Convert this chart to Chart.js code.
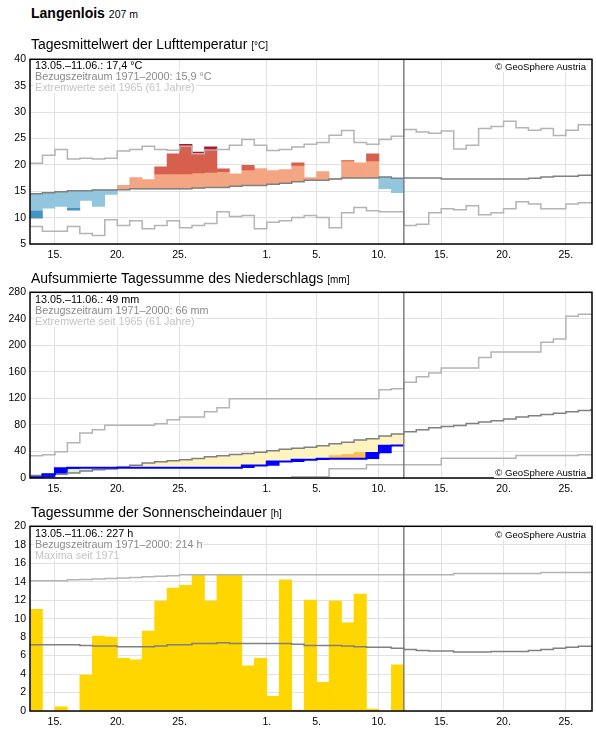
<!DOCTYPE html>
<html>
<head>
<meta charset="utf-8">
<script src="https://cdn.jsdelivr.net/npm/chart.js@4.4.1/dist/chart.umd.min.js"></script>
<style>
html, body { margin: 0; padding: 0; background: #fff; overflow: hidden; }
body { font-family: "Liberation Sans", Arial, sans-serif; color: #000; }
#page { position: relative; width: 596px; height: 729px; }
canvas { position: absolute; left: 0; }
.title { position: absolute; left: 31px; font-size: 14px; line-height: 14px; white-space: nowrap; }
.title .unit { font-size: 10px; }
.title .alt { font-size: 10.5px; }
.note { position: absolute; left: 34px; font-size: 10.8px; line-height: 11px; }
.note div { background: #fff; width: fit-content; padding: 0 1px; white-space: nowrap; }
.note .ref { color: #8a8a8a; }
.note .ext { color: #c4c4c4; }
.copy { position: absolute; right: 9px; font-size: 9.6px; line-height: 11px; background: #fff; padding: 0 1px; white-space: nowrap; }
</style>
</head>
<body>
<div id="page">
  <canvas id="tempChart" width="596" height="215" style="top:49px"></canvas>
  <canvas id="rainChart" width="596" height="216" style="top:282px"></canvas>
  <canvas id="sunChart" width="596" height="215" style="top:516px"></canvas>

  <div class="title" style="top:6px"><b>Langenlois</b> <span class="alt">207 m</span></div>

  <div class="title" style="top:37px">Tagesmittelwert der Lufttemperatur <span class="unit">[°C]</span></div>
  <div class="note" style="top:60px">
    <div>13.05.–11.06.: 17,4 °C</div>
    <div class="ref">Bezugszeitraum 1971–2000: 15,9 °C</div>
    <div class="ext">Extremwerte seit 1965 (61 Jahre)</div>
  </div>
  <div class="copy" style="top:61px">© GeoSphere Austria</div>

  <div class="title" style="top:271px">Aufsummierte Tagessumme des Niederschlags <span class="unit">[mm]</span></div>
  <div class="note" style="top:294px">
    <div>13.05.–11.06.: 49 mm</div>
    <div class="ref">Bezugszeitraum 1971–2000: 66 mm</div>
    <div class="ext">Extremwerte seit 1965 (61 Jahre)</div>
  </div>
  <div class="copy" style="top:467px">© GeoSphere Austria</div>

  <div class="title" style="top:505px">Tagessumme der Sonnenscheindauer <span class="unit">[h]</span></div>
  <div class="note" style="top:528px">
    <div>13.05.–11.06.: 227 h</div>
    <div class="ref">Bezugszeitraum 1971–2000: 214 h</div>
    <div class="ext">Maxima seit 1971</div>
  </div>
  <div class="copy" style="top:529px">© GeoSphere Austria</div>
</div>

<script>
// Days shown on the x axis (13.05. - 27.06.), one entry per day
const days = [
    '13.05.', '14.05.', '15.05.', '16.05.', '17.05.', '18.05.', '19.05.', '20.05.', '21.05.', '22.05.',
    '23.05.', '24.05.', '25.05.', '26.05.', '27.05.', '28.05.', '29.05.', '30.05.', '31.05.', '01.06.',
    '02.06.', '03.06.', '04.06.', '05.06.', '06.06.', '07.06.', '08.06.', '09.06.', '10.06.', '11.06.',
    '12.06.', '13.06.', '14.06.', '15.06.', '16.06.', '17.06.', '18.06.', '19.06.', '20.06.', '21.06.',
    '22.06.', '23.06.', '24.06.', '25.06.', '26.06.', '27.06.'
];
const tickDays = [2, 7, 12, 19, 23, 28, 33, 38, 43];
const tickLabels = ['15.', '20.', '25.', '1.', '5.', '10.', '15.', '20.', '25.'];

// Temperature (daily mean, °C) - measured days only
const tempDay = [9.9, 11.8, 12.1, 11.4, 13.25, 12.1, 14.4, 16.1, 17.6, 17.2,
    19.6, 22.1, 23.9, 22.4, 23.4, 19.25, 18.3, 19.9, 19.3, 18.9,
    19.1, 20.4, 17.6, 18.7, 17.4, 20.8, 20.4, 22.1, 15.5, 14.75];
// reference period mean, extremes
const tempMean = [14.5, 14.7, 14.9, 15.1, 15.1, 15.25, 15.25, 15.3, 15.45, 15.45,
    15.45, 15.45, 15.45, 15.6, 15.7, 15.7, 15.95, 16.1, 16.1, 16.3,
    16.5, 16.8, 17.1, 17.1, 17.3, 17.5, 17.5, 17.5, 17.7, 17.45,
    17.5, 17.5, 17.5, 17.3, 17.3, 17.3, 17.3, 17.3, 17.3, 17.3,
    17.45, 17.7, 17.85, 17.85, 18.05, 18.05];
const tempMax = [20.3, 21.8, 22.9, 21.1, 21.25, 21.1, 21.25, 22.6, 22.9, 23.5,
    22.9, 22.75, 23.5, 22.1, 22.8, 22.9, 23.7, 24.8, 23.7, 22.7,
    22.9, 23.4, 23.9, 24.25, 25.6, 26.5, 24.25, 23.9, 24.8, 25.4,
    26.7, 26.2, 26.0, 26.4, 23.0, 23.7, 26.9, 27.25, 28.25, 27.05,
    26.55, 26.9, 25.55, 26.55, 27.6, 27.6];
const tempMin = [8.3, 7.4, 7.4, 8.3, 7.0, 6.6, 9.6, 8.5, 9.4, 7.9,
    8.5, 9.4, 8.1, 8.5, 8.9, 11.1, 10.2, 10.4, 7.9, 9.1,
    9.4, 10.0, 10.4, 10.0, 8.1, 10.9, 11.9, 11.3, 11.1, 11.1,
    8.5, 8.75, 10.9, 11.7, 11.5, 12.25, 10.55, 10.9, 11.7, 13.0,
    12.6, 11.7, 11.7, 12.6, 12.8, 12.8];
// band edges where the colour gets darker
const tempHigh = [17.4, 17.6, 17.8, 17.9, 18.0, 18.1, 18.1, 18.2, 18.3, 18.3,
    18.3, 18.3, 18.3, 18.45, 18.55, 18.7, 18.9, 19.05, 19.35, 19.3,
    19.5, 19.9, 20.1, 20.2, 20.4, 20.75, 20.75, 20.75, 20.9, 20.7];
const tempLow = [11.25, 11.4, 11.55, 11.75, 11.8, 11.9, 12.0, 12.1, 12.2, 12.3,
    12.3, 12.4, 12.4, 12.5, 12.6, 12.6, 12.8, 12.9, 13.0, 13.1,
    13.3, 13.5, 13.7, 13.8, 14.0, 14.1, 14.2, 14.2, 14.3, 14.2];

// Precipitation, accumulated (mm)
const rainSum = [1.2, 5.6, 14.6, 15.6, 15.6, 15.6, 15.6, 15.6, 15.6, 15.6,
    15.6, 15.6, 15.6, 15.6, 15.6, 15.6, 15.6, 19.0, 19.0, 24.8,
    24.8, 27.6, 27.6, 29.0, 29.0, 29.0, 29.0, 37.7, 48.8, 49.0];
const rainMean = [3.6, 5.1, 6.1, 7.6, 10.6, 12.6, 13.6, 16.6, 19.1, 22.6,
    24.6, 26.1, 27.5, 29.5, 32.0, 33.5, 35.5, 37.0, 38.8, 41.0,
    43.5, 45.0, 46.5, 48.7, 51.5, 53.8, 57.3, 59.3, 63.3, 66.5,
    69.8, 72.8, 75.8, 77.8, 79.3, 82.3, 84.3, 86.3, 88.8, 91.8,
    93.8, 95.8, 97.8, 99.8, 101.9, 103.0];
const rainMax = [33.7, 35.2, 39.7, 53.2, 67.8, 72.8, 79.4, 79.4, 79.4, 79.4,
    81.9, 88.0, 92.0, 92.0, 100.0, 106.0, 119.4, 119.4, 119.4, 119.4,
    119.4, 119.4, 119.4, 119.4, 119.4, 119.4, 119.4, 119.4, 133.0, 134.5,
    144.5, 152.5, 158.5, 166.0, 166.0, 166.0, 181.6, 190.0, 190.0, 190.0,
    190.0, 204.7, 209.7, 244.0, 247.0, 247.0];
const rainMin = [0, 0, 0, 0, 0, 0, 0, 0, 0, 0,
    0.5, 0.5, 0.5, 0.5, 0.5, 0.5, 0.5, 0.5, 0.5, 0.5,
    0.5, 2, 2, 2, 14, 14, 14, 20, 20, 20,
    20, 20, 20, 29.6, 29.6, 29.6, 29.6, 29.6, 29.6, 34,
    34, 34, 34, 34, 35, 35];
const rainLow = [0, 0.5, 1, 1.5, 2, 3, 4, 5, 6, 7,
    8, 9, 10, 11, 12, 13, 14, 16, 17, 19,
    21, 23, 25, 28, 33.7, 35.7, 38.7, 37, 40, 42];

// Sunshine duration (h)
const sunDay = [11.0, 0, 0.45, 0, 3.9, 8.1, 8.0, 5.7, 5.55, 8.65,
    11.9, 13.3, 13.6, 14.7, 11.9, 14.7, 14.7, 4.9, 5.7, 1.6,
    14.2, 0.1, 12.0, 3.1, 11.9, 9.55, 12.65, 0.2, 0, 5.0];
const sunMean = [7.17, 7.17, 7.17, 7.17, 7.1, 7.03, 7.03, 6.95, 6.95, 6.95,
    7.05, 7.17, 7.17, 7.3, 7.3, 7.4, 7.3, 7.3, 7.3, 7.3,
    7.3, 7.22, 7.1, 7.1, 7.1, 7.03, 6.95, 6.9, 6.9, 6.8,
    6.67, 6.56, 6.5, 6.5, 6.4, 6.4, 6.4, 6.45, 6.45, 6.45,
    6.56, 6.67, 6.8, 6.9, 7.0, 7.0];
const sunMax = [14.1, 14.1, 14.1, 14.2, 14.25, 14.3, 14.35, 14.4, 14.45, 14.55,
    14.6, 14.65, 14.75, 14.75, 14.75, 14.75, 14.75, 14.75, 14.75, 14.75,
    14.75, 14.75, 14.75, 14.75, 14.75, 14.75, 14.75, 14.75, 14.75, 14.75,
    14.75, 14.75, 14.75, 14.75, 14.88, 14.88, 14.88, 14.88, 14.88, 14.88,
    14.88, 15.0, 15.0, 15.0, 15.0, 15.0];

Chart.defaults.font.family = '"Liberation Sans", Arial, sans-serif';
Chart.defaults.color = '#000';

const GRID = '#e2e2e2';
const LIGHT = '#b4b4b4';
const DARK = '#808080';
const today = tempDay.length; // end of 11.06.

// points for a step line, value i covers day i
function steps(arr) {
    const pts = arr.map((v, i) => ({ x: i, y: v }));
    pts.push({ x: arr.length, y: arr[arr.length - 1] });
    return pts;
}

function stepLine(arr, color, width, order) {
    return {
        type: 'line', data: steps(arr), borderColor: color, borderWidth: width,
        stepped: true, pointRadius: 0, fill: false, order: order,
        borderCapStyle: 'butt', borderJoinStyle: 'miter'
    };
}

function barSet(points, color, order) {
    return {
        type: 'bar', data: points,
        backgroundColor: color === null ? (c => c.raw && c.raw.c) : color,
        borderWidth: 0, grouped: false, barPercentage: 1, categoryPercentage: 1, order: order
    };
}

// frame around the plot + line at "today"
const framePlugin = {
    id: 'frame',
    afterDatasetsDraw(chart) {
        const { ctx, chartArea: a, scales: { x } } = chart;
        const xt = x.getPixelForValue(today);
        ctx.save();
        ctx.strokeStyle = DARK;
        ctx.lineWidth = 1.5;
        ctx.beginPath();
        ctx.moveTo(xt, a.top);
        ctx.lineTo(xt, a.bottom);
        ctx.stroke();
        ctx.strokeStyle = '#000';
        ctx.lineWidth = 1.5;
        ctx.strokeRect(a.left, a.top, a.width, a.height);
        ctx.restore();
    }
};

function chartOptions(yMin, yMax, yStep) {
    return {
        responsive: false,
        animation: false,
        layout: { padding: { top: 10, right: 4, left: 0, bottom: 0 } },
        plugins: { legend: { display: false }, tooltip: { enabled: false } },
        scales: {
            x: {
                type: 'linear', min: 0, max: 45.1, offset: false,
                afterBuildTicks: s => { s.ticks = tickDays.map(v => ({ value: v })); },
                afterFit: s => { s.height = 20; },
                ticks: {
                    callback: (v, i) => tickLabels[i],
                    font: { size: 10.5 }, color: '#000', maxRotation: 0, padding: 5, autoSkip: false
                },
                grid: { color: GRID, drawTicks: false, offset: false },
                border: { display: false }
            },
            y: {
                min: yMin, max: yMax,
                afterFit: s => { s.width = 30; },
                ticks: { stepSize: yStep, font: { size: 10.5 }, color: '#000', padding: 4 },
                grid: { color: GRID, drawTicks: false },
                border: { display: false }
            }
        }
    };
}

// ---- Temperature ----
const tempLight = [], tempMid = [], tempTop = [];
tempDay.forEach((v, i) => {
    const m = tempMean[i], x = i + 0.5;
    if (v >= m) {
        tempLight.push({ x, y: [m, Math.min(v, tempHigh[i])], c: '#f4a582' });
        if (v > tempHigh[i]) tempMid.push({ x, y: [tempHigh[i], Math.min(v, tempMax[i])], c: '#d6604d' });
        if (v > tempMax[i]) tempTop.push({ x, y: [tempMax[i], v], c: '#b2182b' });
    } else {
        tempLight.push({ x, y: [Math.max(v, tempLow[i]), m], c: '#92c5de' });
        if (v < tempLow[i]) tempMid.push({ x, y: [Math.max(v, tempMin[i]), tempLow[i]], c: '#4393c3' });
        if (v < tempMin[i]) tempTop.push({ x, y: [v, tempMin[i]], c: '#2166ac' });
    }
});

new Chart(document.getElementById('tempChart'), {
    type: 'bar',
    data: {
        datasets: [
            barSet(tempLight, null, 10),
            barSet(tempMid, null, 9),
            barSet(tempTop, null, 8),
            stepLine(tempMax, LIGHT, 1.5, 3),
            stepLine(tempMin, LIGHT, 1.5, 3),
            stepLine(tempMean, DARK, 1.5, 2)
        ]
    },
    options: chartOptions(5, 40, 5),
    plugins: [framePlugin]
});

// ---- Precipitation ----
const rainFill = [], rainDry = [], rainBlocks = [];
rainSum.forEach((v, i) => {
    const m = rainMean[i], x = i + 0.5;
    rainFill.push({ x, y: [Math.min(v, m), Math.max(v, m)], c: v > m ? '#ddefd5' : '#fff3bf' });
    if (v < rainLow[i]) rainDry.push({ x, y: [v, rainLow[i]] });
    const prev = i ? rainSum[i - 1] : 0;
    if (v > prev) rainBlocks.push({ x, y: [prev, v] });
});

new Chart(document.getElementById('rainChart'), {
    type: 'bar',
    data: {
        datasets: [
            barSet(rainFill, null, 10),
            barSet(rainDry, '#fdbe55', 9),
            barSet(rainBlocks, '#0000ff', 8),
            stepLine(rainMax, LIGHT, 1.5, 4),
            stepLine(rainMin, LIGHT, 1.5, 4),
            stepLine(rainMean, DARK, 1.5, 3),
            stepLine(rainSum, '#0000ff', 2, 1)
        ]
    },
    options: chartOptions(0, 280, 40),
    plugins: [framePlugin]
});

// ---- Sunshine ----
const sunBars = [];
sunDay.forEach((v, i) => {
    if (v > 0) sunBars.push({ x: i + 0.5, y: v });
});

new Chart(document.getElementById('sunChart'), {
    type: 'bar',
    data: {
        datasets: [
            barSet(sunBars, '#ffd600', 10),
            stepLine(sunMax, LIGHT, 1.5, 3),
            stepLine(sunMean, DARK, 1.5, 2)
        ]
    },
    options: chartOptions(0, 20, 2),
    plugins: [framePlugin]
});
</script>
</body>
</html>
